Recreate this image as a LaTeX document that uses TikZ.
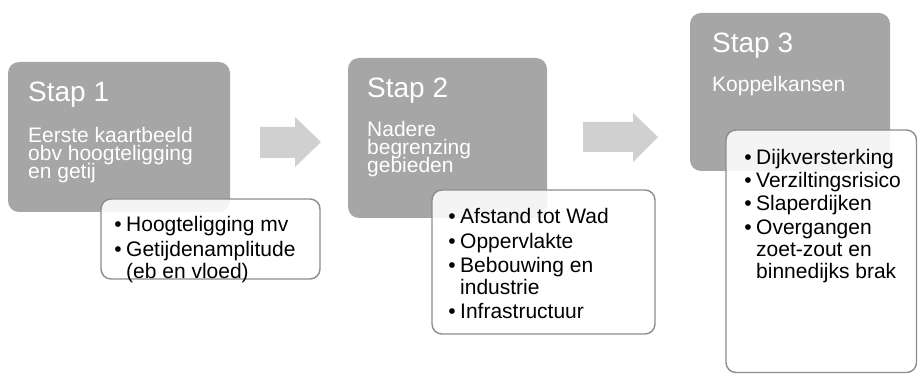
\documentclass[tikz,border=0pt]{standalone}
\usepackage{fontspec}
\setmainfont{Liberation Sans}
\usepackage{xcolor}
\usepackage{tikz}
\usetikzlibrary{calc}

\definecolor{stepgray}{RGB}{166,166,166}
\definecolor{arrowgray}{RGB}{208,208,208}
\definecolor{listline}{RGB}{140,140,140}

\begin{document}
\begin{tikzpicture}[x=1pt,y=1pt]
\tikzstyle{every node}+=[inner sep=0pt]
\tikzstyle{stepbox}=[fill=stepgray, rounded corners=11pt]
\tikzstyle{listbox}=[draw=listline, line width=1.4pt, fill=white, fill opacity=0.88, rounded corners=10pt]
\tikzstyle{title}=[anchor=base west, text=white, font=\fontsize{28}{30}\selectfont]
\tikzstyle{sub}=[anchor=base west, text=white, font=\fontsize{21}{24}\selectfont]
\tikzstyle{item}=[anchor=base west, text=black, font=\fontsize{21}{24}\selectfont]
\tikzstyle{bul}=[anchor=base, text=black, font=\fontsize{21}{24}\selectfont]
    \useasboundingbox (0,0) rectangle (918,-374);
    % stap 1
    \fill [stepbox] (8,-62) rectangle (230,-212);
    \node [title] (t1) at (28,-102) {Stap 1};
    \node [sub] (s1a) at (28,-143) {Eerste kaartbeeld};
    \node [sub] (s1b) at (28,-161) {obv hoogteligging};
    \node [sub] (s1c) at (28,-179) {en getij};
    \filldraw [listbox] (101,-199) rectangle (320,-279);
    \node [bul] (b1a) at (118,-231) {\textbullet};
    \node [item] (i1a) at (126,-231) {Hoogteligging mv};
    \node [bul] (b1b) at (118,-256) {\textbullet};
    \node [item] (i1b) at (126,-256) {Getijdenamplitude};
    \node [item] (i1c) at (126,-278) {(eb en vloed)};
    \fill [arrowgray] (260,-127) -- (295,-127) -- (295,-117) -- (321,-142)
        -- (295,-167) -- (295,-158) -- (260,-158) -- cycle;
    % stap 2
    \fill [stepbox] (348,-58) rectangle (547,-218);
    \node [title] (t2) at (367,-98) {Stap 2};
    \node [sub] (s2a) at (367,-137) {Nadere};
    \node [sub] (s2b) at (367,-155) {begrenzing};
    \node [sub] (s2c) at (367,-173) {gebieden};
    \filldraw [listbox] (432,-190) rectangle (655,-334);
    \node [bul] (b2a) at (452,-224) {\textbullet};
    \node [item] (i2a) at (460,-224) {Afstand tot Wad};
    \node [bul] (b2b) at (452,-248) {\textbullet};
    \node [item] (i2b) at (460,-248) {Oppervlakte};
    \node [bul] (b2c) at (452,-272) {\textbullet};
    \node [item] (i2c) at (460,-272) {Bebouwing en};
    \node [item] (i2d) at (460,-294) {industrie};
    \node [bul] (b2e) at (452,-318) {\textbullet};
    \node [item] (i2e) at (460,-318) {Infrastructuur};
    \fill [arrowgray] (583,-122) -- (633,-122) -- (633,-113) -- (658,-137)
        -- (633,-162) -- (633,-152) -- (583,-152) -- cycle;
    % stap 3
    \fill [stepbox] (690,-13) rectangle (890,-171);
    \node [title] (t3) at (712,-53) {Stap 3};
    \node [sub] (s3a) at (712,-92) {Koppelkansen};
    \filldraw [listbox] (726,-130) rectangle (916.5,-372.5);
    \node [bul] (b3a) at (748,-165) {\textbullet};
    \node [item] (i3a) at (756,-165) {Dijkversterking};
    \node [bul] (b3b) at (748,-188) {\textbullet};
    \node [item] (i3b) at (756,-188) {Verziltingsrisico};
    \node [bul] (b3c) at (748,-211) {\textbullet};
    \node [item] (i3c) at (756,-211) {Slaperdijken};
    \node [bul] (b3d) at (748,-234) {\textbullet};
    \node [item] (i3d) at (756,-234) {Overgangen};
    \node [item] (i3e) at (756,-256) {zoet-zout en};
    \node [item] (i3f) at (756,-278) {binnedijks brak};
\end{tikzpicture}
\end{document}
